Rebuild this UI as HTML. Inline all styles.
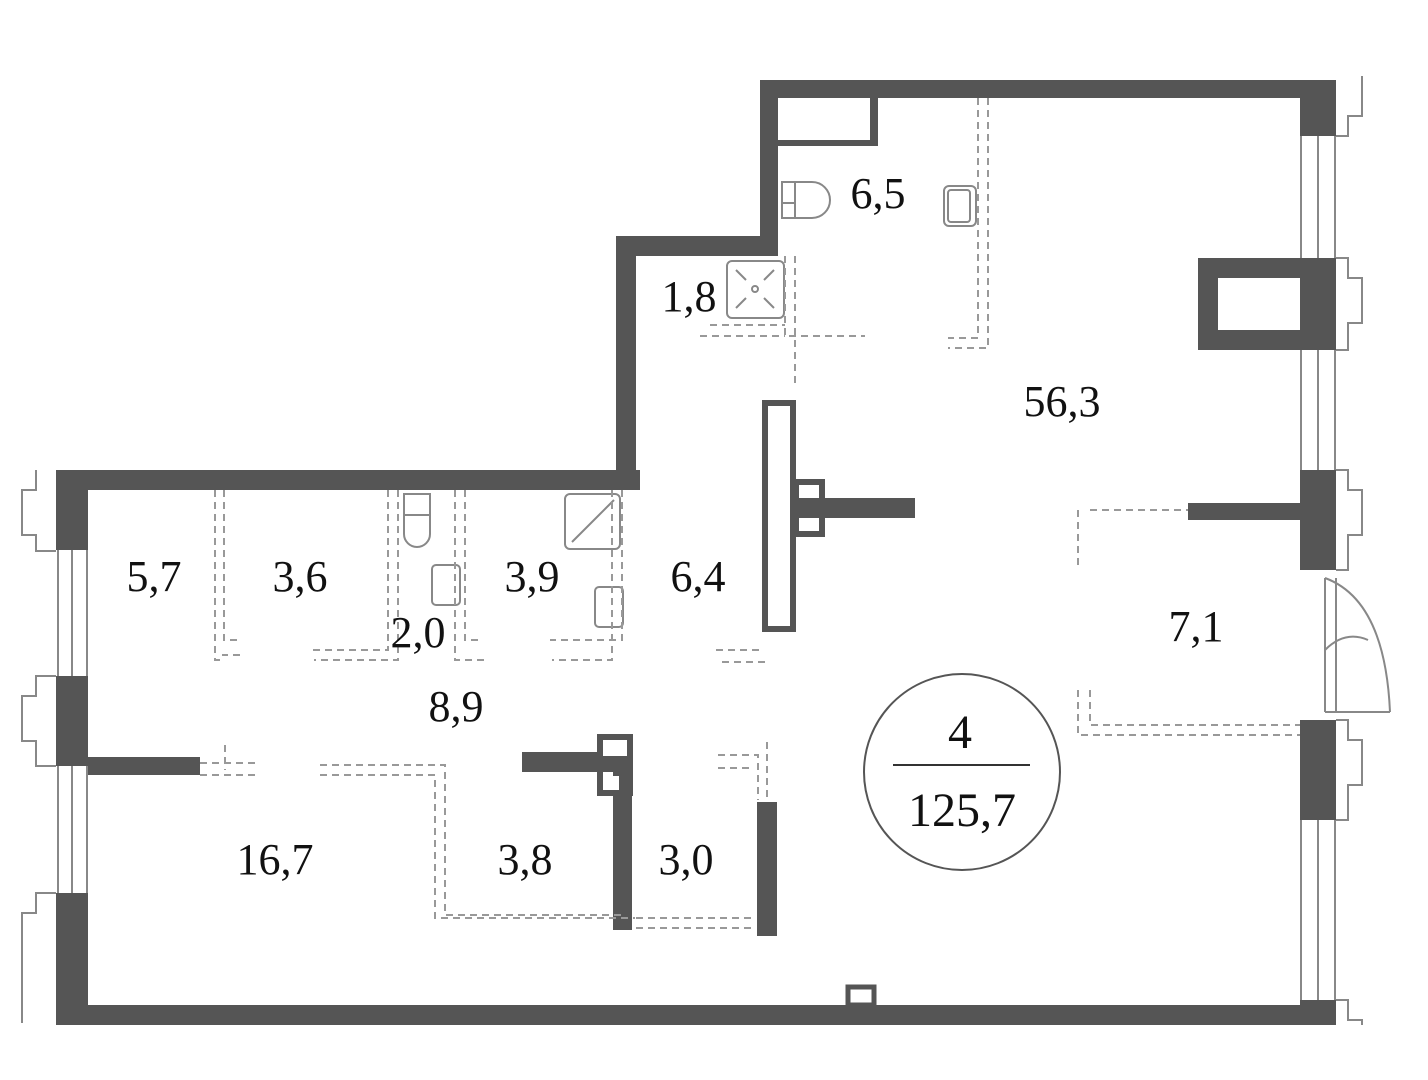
<!DOCTYPE html>
<html><head><meta charset="utf-8"><style>
html,body{margin:0;padding:0;background:#fff;width:1428px;height:1080px;overflow:hidden}
text{font-family:"Liberation Serif",serif;fill:#111}
</style></head><body>
<svg width="1428" height="1080" viewBox="0 0 1428 1080" xmlns="http://www.w3.org/2000/svg">
<g fill="#555">
<rect x="56" y="470" width="584" height="20"/>
<rect x="616" y="236" width="20" height="254"/>
<rect x="616" y="236" width="162" height="20"/>
<rect x="760" y="80" width="18" height="176"/>
<rect x="760" y="80" width="576" height="18"/>
<rect x="56" y="470" width="32" height="80"/>
<rect x="56" y="676" width="32" height="90"/>
<rect x="88" y="757" width="112" height="18"/>
<rect x="56" y="893" width="32" height="132"/>
<rect x="56" y="1005" width="1280" height="20"/>
<rect x="1300" y="80" width="36" height="56"/>
<rect x="1300" y="258" width="36" height="92"/>
<rect x="1198" y="258" width="102" height="92"/>
<rect x="1300" y="470" width="36" height="100"/>
<rect x="1188" y="503" width="114" height="17"/>
<rect x="1300" y="720" width="36" height="100"/>
<rect x="1300" y="1000" width="36" height="25"/>
<rect x="778" y="80" width="98" height="6"/>
<rect x="870" y="80" width="8" height="66"/>
<rect x="778" y="140" width="100" height="6"/>
<rect x="795" y="498" width="120" height="20"/>
<rect x="522" y="752" width="93" height="20"/>
<rect x="613" y="735" width="19" height="195"/>
<rect x="757" y="802" width="20" height="134"/>
</g>
<rect x="1218" y="278" width="82" height="52" fill="#fff"/>
<g fill="none" stroke="#555">
<rect x="765" y="403" width="28" height="226" stroke-width="6"/>
<rect x="796" y="482" width="26" height="52" stroke-width="6"/>
<rect x="600" y="737" width="30" height="56" stroke-width="6"/>
<rect x="848" y="987" width="26" height="18" stroke-width="5"/>
</g>
<rect x="603" y="740" width="24" height="16" fill="#fff"/>
<rect x="603" y="776" width="16" height="14" fill="#fff"/>
<g stroke="#888" stroke-width="2" fill="none">
<line x1="58" y1="550" x2="58" y2="676"/><line x1="72" y1="550" x2="72" y2="676"/><line x1="87" y1="550" x2="87" y2="676"/>
<line x1="58" y1="766" x2="58" y2="893"/><line x1="72" y1="766" x2="72" y2="893"/><line x1="87" y1="766" x2="87" y2="893"/>
<line x1="1301" y1="136" x2="1301" y2="258"/><line x1="1318" y1="136" x2="1318" y2="258"/><line x1="1335" y1="136" x2="1335" y2="258"/>
<line x1="1301" y1="350" x2="1301" y2="470"/><line x1="1318" y1="350" x2="1318" y2="470"/><line x1="1335" y1="350" x2="1335" y2="470"/>
<line x1="1301" y1="820" x2="1301" y2="1000"/><line x1="1318" y1="820" x2="1318" y2="1000"/><line x1="1335" y1="820" x2="1335" y2="1000"/>
<path d="M36 470v20h-14v45h14v16h20"/>
<path d="M56 676h-20v20h-14v45h14v25h20"/>
<path d="M56 893h-20v20h-14v110"/>
<path d="M1336 136h12v-20h14v-40"/>
<path d="M1336 258h12v20h14v45h-14v27h-12"/>
<path d="M1336 470h12v20h14v45h-14v35h-12"/>
<path d="M1336 720h12v20h14v45h-14v35h-12"/>
<path d="M1336 1000h12v20h14v5"/>
<path d="M1325 578v134M1336 578v134"/>
<path d="M1325 578 Q1385 600 1390 712 M1325 712 L1390 712"/>
<path d="M1325 650 Q1345 630 1368 640 M1325 650 L1325 650"/>
</g>
<g stroke="#888" stroke-width="2" fill="none">
<path d="M782 182h30a18 18 0 0 1 0 36h-30zM795 182v36M782 203h13"/>
<rect x="944" y="186" width="32" height="40" rx="5"/><rect x="948" y="190" width="22" height="32" rx="3"/>
<rect x="727" y="261" width="57" height="57" rx="5"/><circle cx="755" cy="289" r="3"/>
<path d="M736 270l10 10M774 270l-10 10M736 308l10-10M774 308l-10-10"/>
<path d="M404 494h26v40a13 13 0 0 1-26 0z M404 515h26"/>
<rect x="432" y="565" width="28" height="40" rx="4"/>
<rect x="565" y="494" width="55" height="55" rx="5"/><path d="M572 542l42-42"/>
<rect x="595" y="587" width="28" height="40" rx="4"/>
</g>
<g stroke="#999" stroke-width="2" fill="none" stroke-dasharray="7 5">
<path d="M215 490v170h8M224 490v150h18M240 655h-18"/>
<path d="M388 490v160h-76M398 490v170h-84"/>
<path d="M455 490v170h30M465 490v150h16"/>
<path d="M612 490v170h-60M622 490v150h-72"/>
<path d="M785 256v80h80M795 256v130M710 325h75M700 336h85"/>
<path d="M978 98v240h-30M988 98v250h-40"/>
<path d="M716 650h45M722 662h45"/>
<path d="M1078 510v60M1090 510h98M1078 690v45h222M1090 690v35h210"/>
<path d="M200 763h55M200 775h55M225 745v25"/>
<path d="M320 765h125v150h180M320 775h115v143h200"/>
<path d="M636 918h120M636 928h120"/>
<path d="M718 755h40v45M718 768h35M767 742v60"/>
</g>
<g font-size="44" text-anchor="middle">
<text x="878" y="208">6,5</text>
<text x="689" y="311">1,8</text>
<text x="1062" y="416">56,3</text>
<text x="154" y="591">5,7</text>
<text x="300" y="591">3,6</text>
<text x="532" y="591">3,9</text>
<text x="698" y="591">6,4</text>
<text x="418" y="647">2,0</text>
<text x="1196" y="641">7,1</text>
<text x="456" y="721">8,9</text>
<text x="275" y="874">16,7</text>
<text x="525" y="874">3,8</text>
<text x="686" y="874">3,0</text>
<text x="960" y="748" font-size="48">4</text>
<text x="962" y="826" font-size="48">125,7</text>
</g>
<circle cx="962" cy="772" r="98" fill="none" stroke="#555" stroke-width="2"/>
<line x1="893" y1="765" x2="1030" y2="765" stroke="#333" stroke-width="2"/>
</svg>
</body></html>
